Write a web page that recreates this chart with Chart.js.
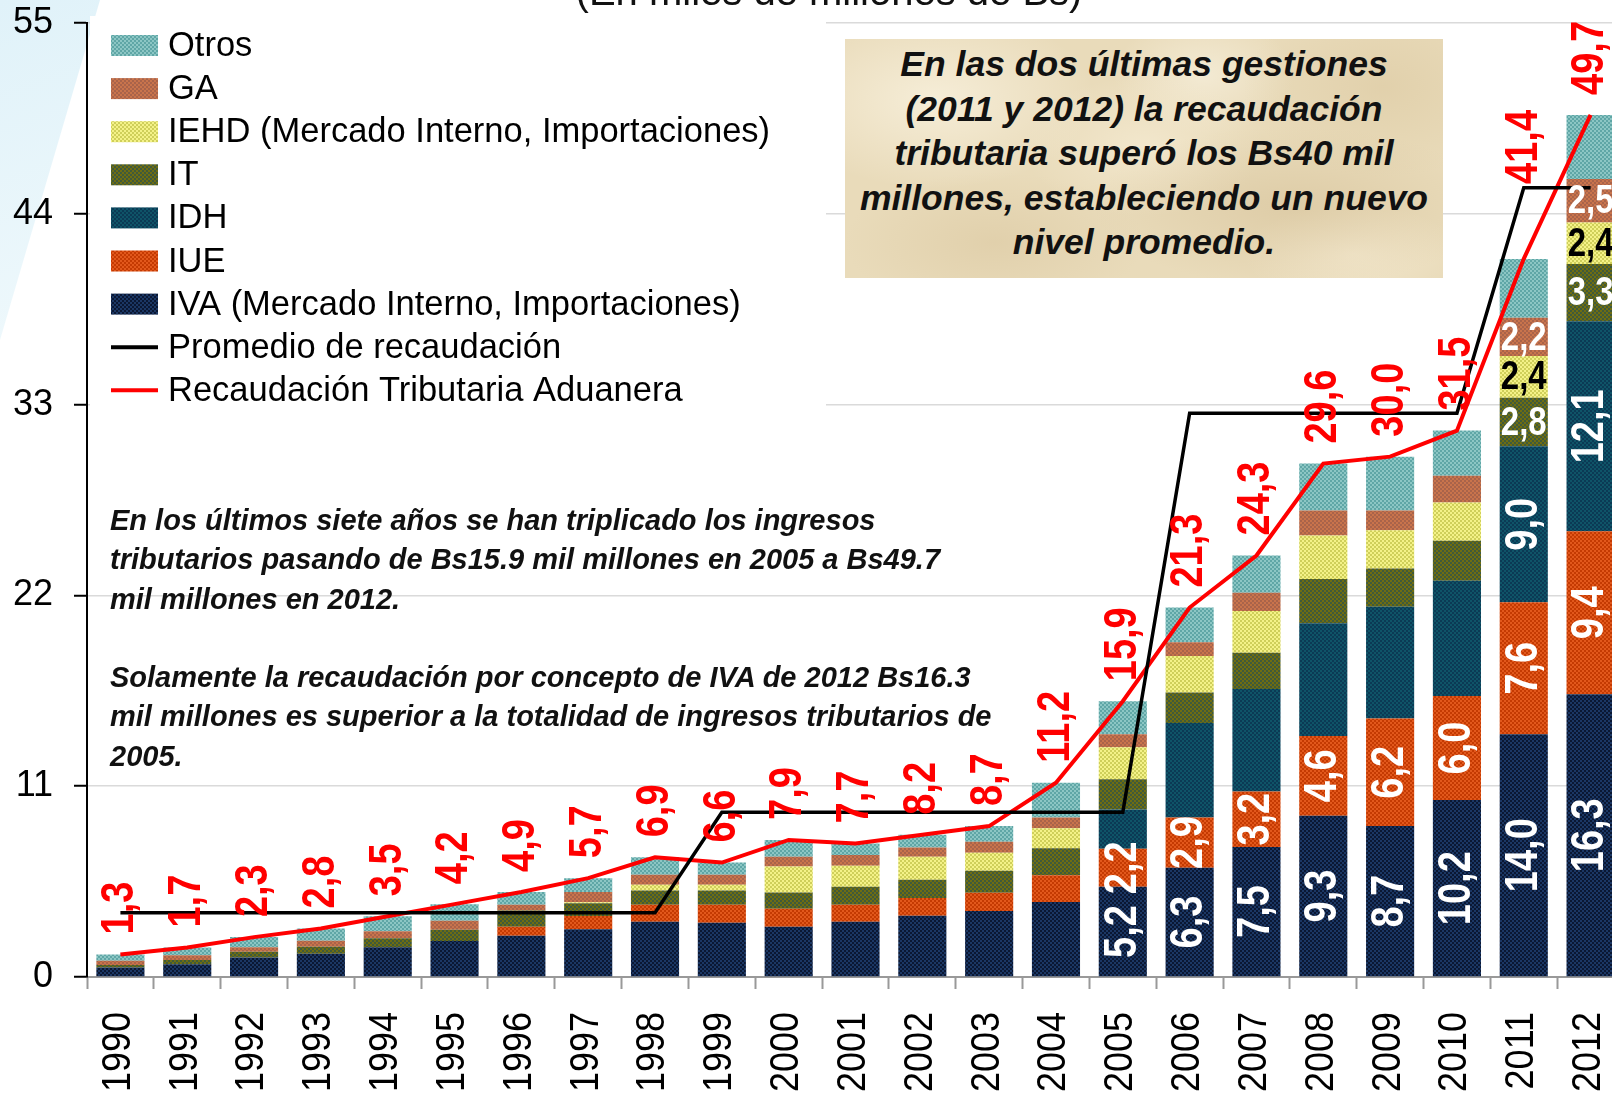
<!DOCTYPE html>
<html lang="es">
<head>
<meta charset="utf-8">
<title>Recaudación tributaria 1990-2012</title>
<script src="https://cdn.jsdelivr.net/npm/chart.js@4.4.1/dist/chart.umd.min.js"></script>
<style>
html, body { margin:0; padding:0; width:1612px; height:1096px; overflow:hidden; background:#fff; font-family:'Liberation Sans', Arial, sans-serif; }
#fondo { position:absolute; left:0; top:0; width:120px; height:360px; background:linear-gradient(160deg, #e0f2f9, #f0f9fc); clip-path:polygon(0 0, 100px 0, 0 340px); }
#grafico { position:absolute; left:0; top:0; }
#titulo { position:absolute; left:429px; width:800px; top:-29px; text-align:center; font-size:40px; line-height:40px; color:#111; white-space:nowrap; }
#nota1 { position:absolute; left:845px; top:39px; width:598px; height:239px; box-sizing:border-box; padding-top:3px;
  text-align:center; font-weight:bold; font-style:italic; font-size:35.5px; line-height:44.5px; white-space:nowrap; color:#111;
  background:
    radial-gradient(ellipse 160px 90px at 15% 25%, rgba(250,243,225,0.75), transparent),
    radial-gradient(ellipse 200px 80px at 75% 70%, rgba(205,182,138,0.4), transparent),
    radial-gradient(ellipse 120px 70px at 50% 45%, rgba(246,236,212,0.7), transparent),
    radial-gradient(ellipse 140px 90px at 90% 20%, rgba(214,193,150,0.4), transparent),
    radial-gradient(ellipse 150px 70px at 25% 85%, rgba(210,188,145,0.35), transparent),
    radial-gradient(ellipse 90px 60px at 60% 15%, rgba(250,244,228,0.6), transparent),
    radial-gradient(ellipse 110px 50px at 85% 90%, rgba(248,238,215,0.6), transparent),
    #e9dbba; }
#nota2 { position:absolute; left:110px; top:501px; font-weight:bold; font-style:italic; font-size:29px; line-height:39.3px; white-space:nowrap; color:#111; }
</style>
</head>
<body>
<div id="fondo"></div>
<canvas id="grafico" width="1624" height="1096"></canvas>
<div id="titulo">(En miles de millones de Bs)</div>
<div id="nota1">En las dos últimas gestiones<br>(2011 y 2012) la recaudación<br>tributaria superó los Bs40 mil<br>millones, estableciendo un nuevo<br>nivel promedio.</div>
<div id="nota2">En los últimos siete años se han triplicado los ingresos<br>tributarios pasando de Bs15.9 mil millones en 2005 a Bs49.7<br>mil millones en 2012.<br><br>Solamente la recaudación por concepto de IVA de 2012 Bs16.3<br>mil millones es superior a la totalidad de ingresos tributarios de<br>2005.</div>
<script>
const anios = ['1990','1991','1992','1993','1994','1995','1996','1997','1998','1999','2000','2001',
  '2002','2003','2004','2005','2006','2007','2008','2009','2010','2011','2012'];

// miles de millones de Bs
const iva   = [0.55, 0.73, 1.12, 1.34, 1.72, 2.07, 2.38, 2.75, 3.19, 3.13, 2.90, 3.19, 3.53, 3.81, 4.32, 5.2, 6.3, 7.5, 9.3, 8.7, 10.2, 14.0, 16.3];
const iue   = [0, 0, 0, 0, 0, 0, 0.52, 0.76, 0.97, 1.03, 1.03, 0.97, 1.03, 1.04, 1.55, 2.2, 2.9, 3.2, 4.6, 6.2, 6.0, 7.6, 9.4];
const idh   = [0, 0, 0, 0, 0, 0, 0, 0, 0, 0, 0, 0, 0, 0, 0, 2.25, 5.45, 5.9, 6.5, 6.45, 6.65, 9.0, 12.1];
const it    = [0.14, 0.25, 0.33, 0.40, 0.52, 0.65, 0.94, 0.74, 0.83, 0.83, 0.94, 1.04, 1.04, 1.27, 1.55, 1.75, 1.75, 2.1, 2.55, 2.2, 2.3, 2.8, 3.3];
const iehd  = [0, 0, 0, 0, 0, 0, 0, 0.06, 0.33, 0.33, 1.50, 1.21, 1.33, 1.04, 1.15, 1.85, 2.1, 2.4, 2.5, 2.2, 2.2, 2.4, 2.4];
const ga    = [0.24, 0.27, 0.26, 0.35, 0.40, 0.53, 0.32, 0.59, 0.57, 0.57, 0.56, 0.63, 0.54, 0.64, 0.63, 0.75, 0.8, 1.05, 1.45, 1.15, 1.55, 2.2, 2.5];
const otros = [0.37, 0.45, 0.59, 0.71, 0.86, 0.95, 0.74, 0.80, 1.01, 0.71, 0.97, 0.66, 0.73, 0.90, 2.00, 1.9, 2.0, 2.15, 2.7, 3.1, 2.6, 3.4, 3.7];
const total = [1.3, 1.7, 2.3, 2.8, 3.5, 4.2, 4.9, 5.7, 6.9, 6.6, 7.9, 7.7, 8.2, 8.7, 11.2, 15.9, 21.3, 24.3, 29.6, 30.0, 31.5, 41.4, 49.7];
const promedio = [3.7, 3.7, 3.7, 3.7, 3.7, 3.7, 3.7, 3.7, 3.7, 9.5, 9.5, 9.5, 9.5, 9.5, 9.5, 9.5, 32.5, 32.5, 32.5, 32.5, 32.5, 45.5, 45.5];
const ticksY = [0, 11, 22, 33, 44, 55];

const ctx = document.getElementById('grafico').getContext('2d');

function patron(fondo, punto) {
  const c = document.createElement('canvas');
  c.width = 4; c.height = 4;
  const g = c.getContext('2d');
  g.fillStyle = fondo; g.fillRect(0, 0, 4, 4);
  g.fillStyle = punto; g.fillRect(0, 0, 2, 2); g.fillRect(2, 2, 2, 2);
  return ctx.createPattern(c, 'repeat');
}

function fmt(v) {
  return v.toFixed(1).replace('.', ',');
}

// texto girado 90 grados, un poco ensanchado como en el original
function textoGirado(c, txt, x, y, align, ancho) {
  c.save();
  c.translate(x, y);
  c.rotate(-Math.PI / 2);
  c.scale(1, ancho);
  c.textAlign = align;
  c.textBaseline = 'middle';
  c.fillText(txt, 0, 0);
  c.restore();
}

const etiquetas = {
  id: 'etiquetas',
  beforeDatasetsDraw(chart) {
    const c = chart.ctx;
    c.save();
    c.fillStyle = '#fff';
    c.fillRect(90, 16, 736, 392);
    c.restore();
  },
  afterDatasetsDraw(chart) {
    const c = chart.ctx;
    c.save();
    chart.data.datasets.forEach((ds, i) => {
      if (!ds.etiqueta) return;
      const meta = chart.getDatasetMeta(i);
      meta.data.forEach((bar, j) => {
        if (j < ds.etiqueta.desde) return;
        const cy = (bar.y + bar.base) / 2;
        c.fillStyle = ds.etiqueta.color;
        if (ds.etiqueta.vertical) {
          c.font = 'bold 38px "Liberation Sans", Arial';
          textoGirado(c, fmt(ds.data[j]), bar.x, cy, 'center', 1.22);
        } else {
          c.font = 'bold 33px "Liberation Sans", Arial';
          c.save();
          c.translate(bar.x, cy);
          c.scale(1, 1.25);
          c.textAlign = 'center';
          c.textBaseline = 'middle';
          c.fillText(fmt(ds.data[j]), 0, 1);
          c.restore();
        }
      });
    });
    // valores totales en rojo
    const metaTot = chart.getDatasetMeta(1);
    c.fillStyle = '#ff0000';
    c.font = 'bold 38px "Liberation Sans", Arial';
    metaTot.data.forEach((p, j) => {
      const subir = anios[j] === '2011' ? 75 : 20;
      textoGirado(c, fmt(total[j]), p.x, p.y - subir, 'left', 1.22);
    });
    c.restore();
  },
  afterDraw(chart) {
    const c = chart.ctx;
    const ds = chart.data.datasets;
    c.save();
    // años del eje x
    c.fillStyle = '#000';
    c.font = '36px "Liberation Sans", Arial';
    const sx = chart.scales.x;
    anios.forEach((a, j) => {
      textoGirado(c, a, sx.getPixelForValue(j) - 2, 1012, 'right', 1.15);
    });
    // leyenda
    const orden = [8, 7, 6, 5, 4, 3, 2, 0, 1];
    c.font = '34.5px "Liberation Sans", Arial';
    c.textBaseline = 'middle';
    c.textAlign = 'left';
    orden.forEach((k, n) => {
      const y = 45.5 + n * 43.1;
      const d = ds[k];
      if (d.type === 'line') {
        c.strokeStyle = d.borderColor;
        c.lineWidth = 4;
        c.beginPath(); c.moveTo(111, y); c.lineTo(158, y); c.stroke();
      } else {
        c.fillStyle = d.backgroundColor;
        c.fillRect(111, y - 10.5, 47, 21);
      }
      c.fillStyle = '#000';
      c.fillText(d.label, 168, y + 1);
    });
    c.restore();
  }
};

new Chart(ctx, {
  type: 'bar',
  data: {
    labels: anios,
    datasets: [
      { type: 'line', label: 'Promedio de recaudación', data: promedio, stack: 'prom',
        borderColor: '#000', borderWidth: 3.5, pointRadius: 0, tension: 0, order: 0 },
      { type: 'line', label: 'Recaudación Tributaria Aduanera', data: total, stack: 'tot',
        borderColor: '#ff0000', borderWidth: 4, pointRadius: 0, tension: 0, order: 0 },
      { label: 'IVA (Mercado Interno, Importaciones)', data: iva, stack: 'imp', order: 1,
        backgroundColor: patron('#0a1733', '#1b3764'), etiqueta: { desde: 15, vertical: true, color: '#fff' } },
      { label: 'IUE', data: iue, stack: 'imp', order: 1,
        backgroundColor: patron('#c43a02', '#e2581c'), etiqueta: { desde: 15, vertical: true, color: '#fff' } },
      { label: 'IDH', data: idh, stack: 'imp', order: 1,
        backgroundColor: patron('#0f5468', '#0b3a55'), etiqueta: { desde: 21, vertical: true, color: '#fff' } },
      { label: 'IT', data: it, stack: 'imp', order: 1,
        backgroundColor: patron('#6f6d12', '#3f5a3a'), etiqueta: { desde: 21, vertical: false, color: '#fff' } },
      { label: 'IEHD (Mercado Interno, Importaciones)', data: iehd, stack: 'imp', order: 1,
        backgroundColor: patron('#f4f288', '#cfcf5a'), etiqueta: { desde: 21, vertical: false, color: '#000' } },
      { label: 'GA', data: ga, stack: 'imp', order: 1,
        backgroundColor: patron('#c9744c', '#a9634a'), etiqueta: { desde: 21, vertical: false, color: '#fff' } },
      { label: 'Otros', data: otros, stack: 'imp', order: 1,
        backgroundColor: patron('#5fa6a6', '#8cc6c4') }
    ]
  },
  options: {
    responsive: false,
    animation: false,
    layout: { padding: { top: 23, left: 0, right: 0, bottom: 0 } },
    datasets: { bar: { barPercentage: 0.72, categoryPercentage: 1 } },
    plugins: { legend: { display: false }, tooltip: { enabled: false } },
    scales: {
      x: {
        stacked: true,
        ticks: { display: false },
        grid: { drawOnChartArea: false, drawTicks: true, tickLength: 12, tickColor: '#999', tickWidth: 2, offset: true },
        border: { display: true, color: '#999', width: 2 },
        afterFit(s) { s.height = 119; s.paddingLeft = 0; s.paddingRight = 0; }
      },
      y: {
        stacked: true,
        min: 0,
        max: 55,
        afterBuildTicks(s) { s.ticks = ticksY.map(v => ({ value: v })); },
        ticks: { color: '#000', font: { family: 'Liberation Sans', size: 36 }, padding: 21 },
        grid: { color: '#dadada', lineWidth: 1.5, tickColor: '#000', tickLength: 13, tickWidth: 2 },
        border: { display: true, color: '#000', width: 2 },
        afterFit(s) { s.width = 87; s.paddingTop = 0; s.paddingBottom = 0; }
      }
    }
  },
  plugins: [etiquetas]
});
</script>
</body>
</html>
